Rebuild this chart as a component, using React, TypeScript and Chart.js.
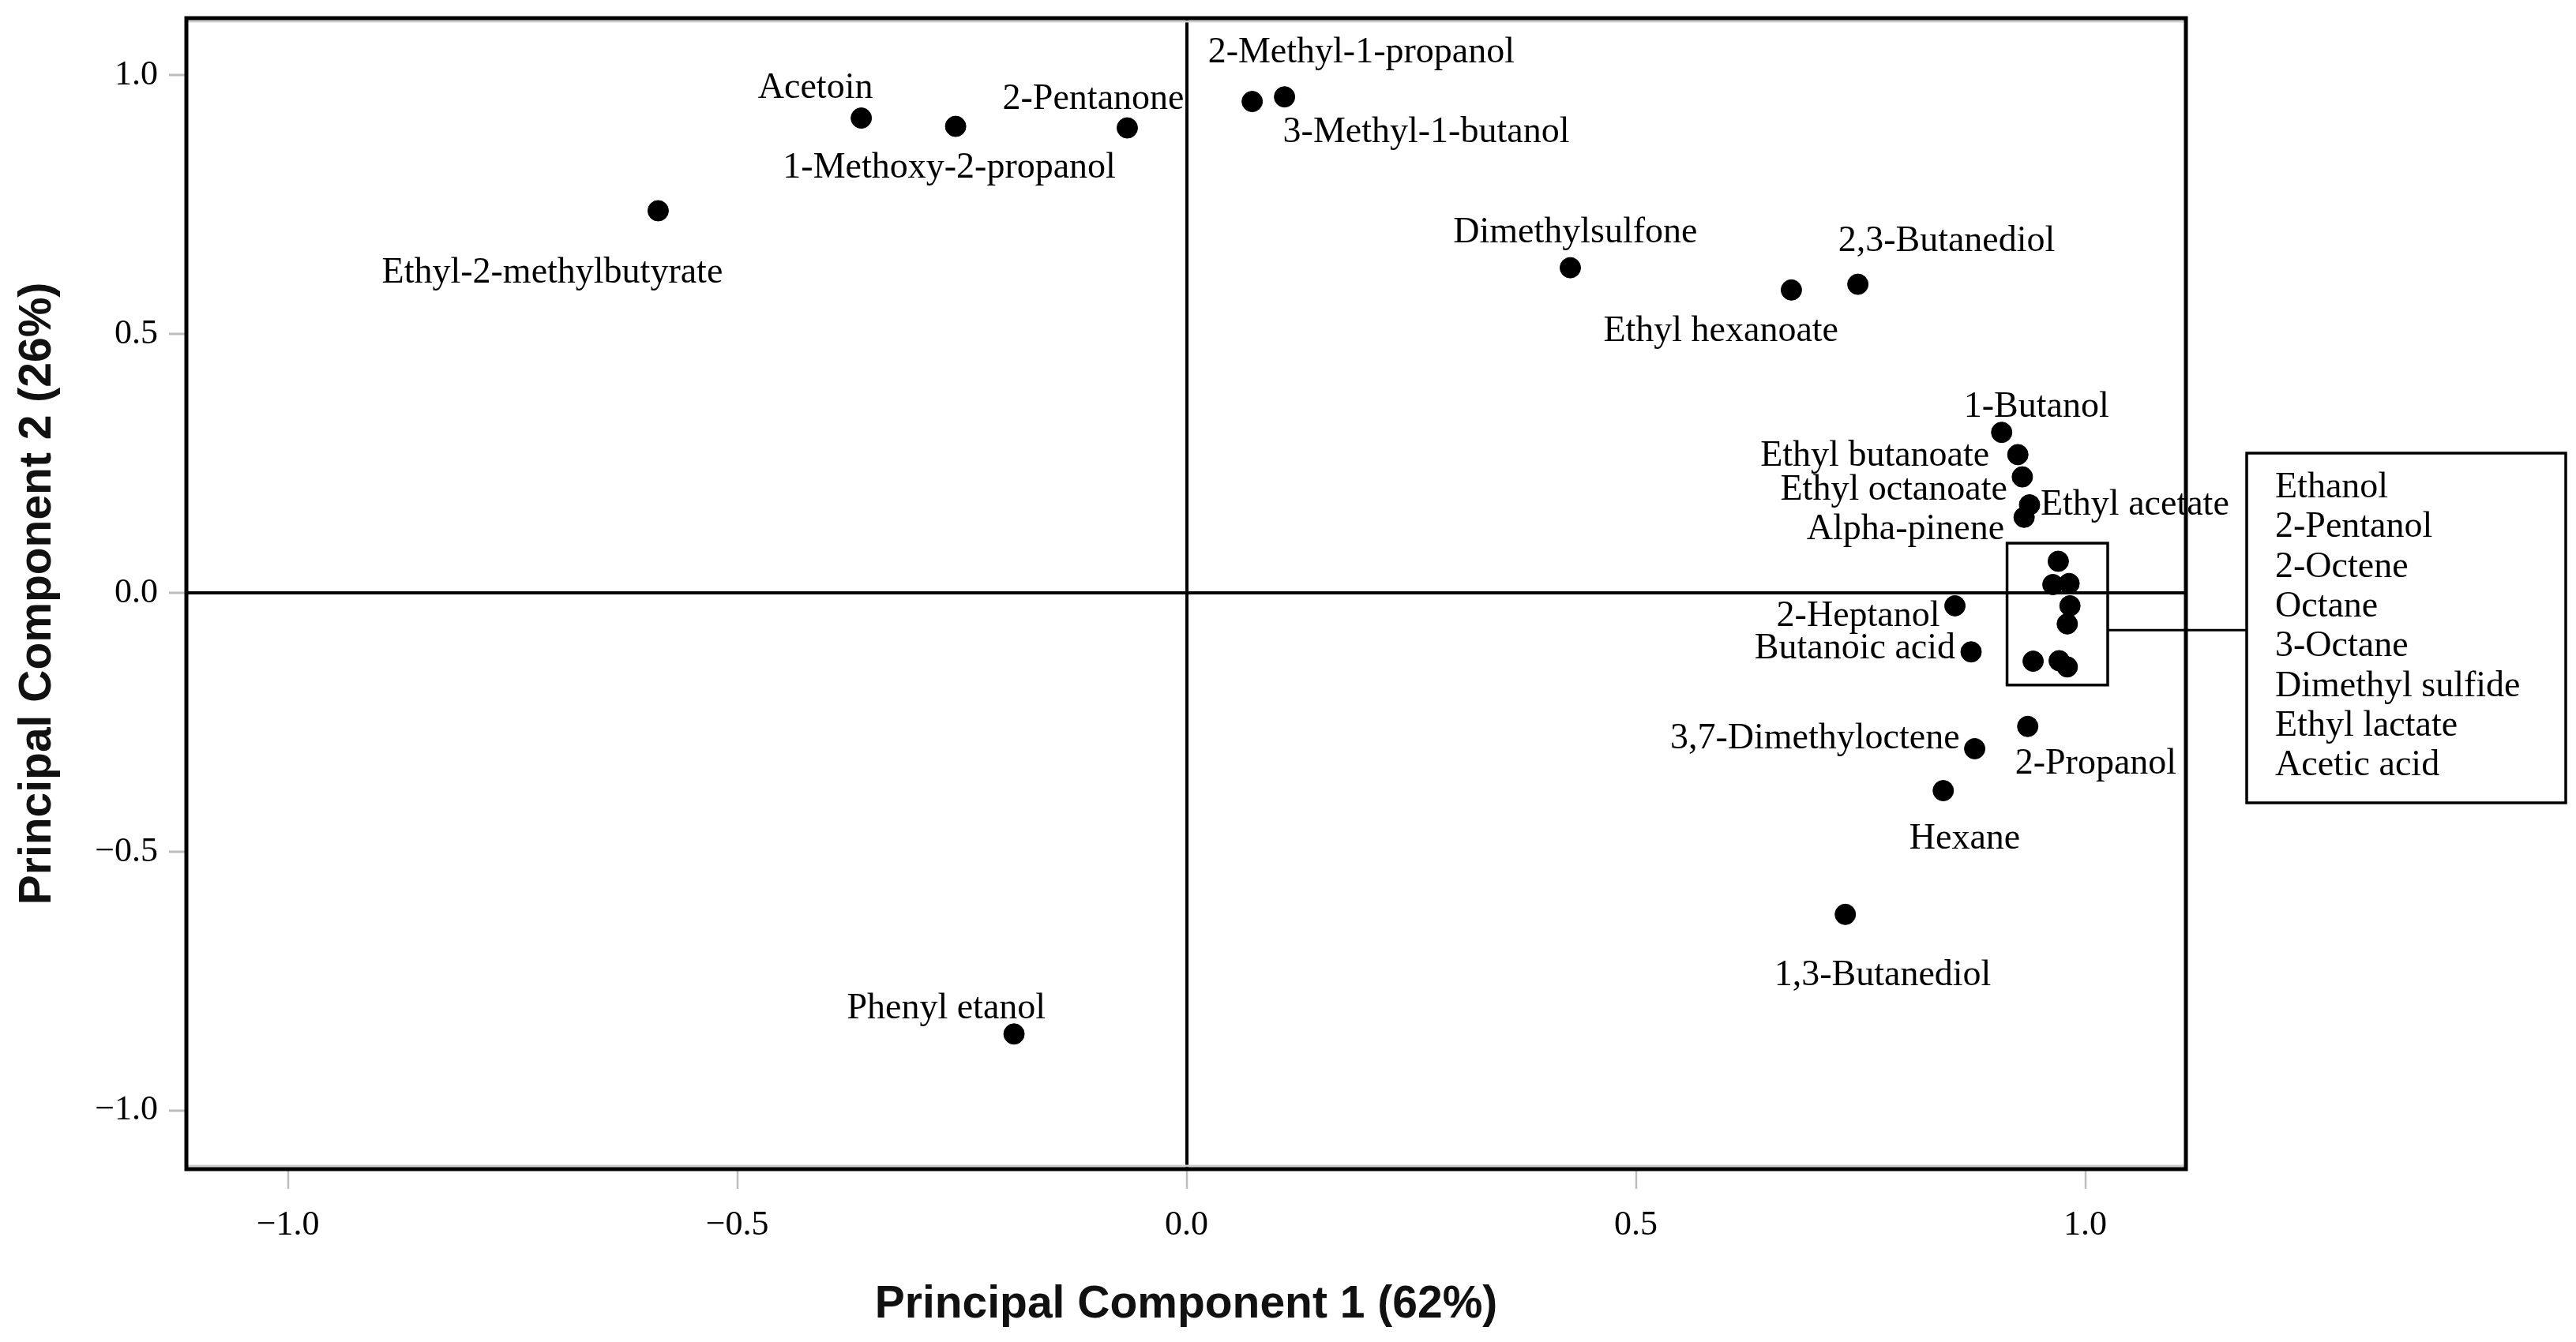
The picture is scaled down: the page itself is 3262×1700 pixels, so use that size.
import React, { useEffect, useRef } from "react";
import { Chart, registerables } from "chart.js";

Chart.register(...registerables);

// ---------- data ----------
const compounds: string[] = [
  "Acetoin",
  "1-Methoxy-2-propanol",
  "2-Pentanone",
  "Ethyl-2-methylbutyrate",
  "2-Methyl-1-propanol",
  "3-Methyl-1-butanol",
  "Dimethylsulfone",
  "Ethyl hexanoate",
  "2,3-Butanediol",
  "1-Butanol",
  "Ethyl butanoate",
  "Ethyl octanoate",
  "Ethyl acetate",
  "Alpha-pinene",
  "2-Heptanol",
  "Butanoic acid",
  "2-Propanol",
  "3,7-Dimethyloctene",
  "Hexane",
  "1,3-Butanediol",
  "Phenyl etanol",
  "Ethanol",
  "2-Pentanol",
  "2-Octene",
  "Octane",
  "3-Octane",
  "Dimethyl sulfide",
  "Ethyl lactate",
  "Acetic acid",
];

const pc1: number[] = [
  -0.362, -0.257, -0.066, -0.588, 0.073, 0.109, 0.427, 0.673, 0.747, 0.907,
  0.925, 0.93, 0.938, 0.932, 0.855, 0.873, 0.936, 0.877, 0.842, 0.733, -0.192,
  0.97, 0.964, 0.982, 0.983, 0.98, 0.942, 0.971, 0.98,
];

const pc2: number[] = [
  0.917, 0.901, 0.898, 0.738, 0.949, 0.958, 0.628, 0.585, 0.596, 0.31, 0.267,
  0.224, 0.17, 0.146, -0.025, -0.114, -0.258, -0.301, -0.382, -0.621, -0.852,
  0.061, 0.016, 0.018, -0.025, -0.06, -0.132, -0.131, -0.143,
];

// compounds listed in the side box (points inside the small rectangle)
const boxedCompounds: string[] = [
  "Ethanol",
  "2-Pentanol",
  "2-Octene",
  "Octane",
  "3-Octane",
  "Dimethyl sulfide",
  "Ethyl lactate",
  "Acetic acid",
];

const xTitle = "Principal Component 1 (62%)";
const yTitle = "Principal Component 2 (26%)";
const axisMin = { x: -1.113, y: -1.113 };
const axisMax = { x: 1.112, y: 1.11 };

// ---------- layout of labels (alignment, px offset from point, baseline offset) ----------
type Lab = [CanvasTextAlign, number, number] | null;
const labelLayout: Lab[] = [
  ["center", -58, -26],
  ["center", -8, 65],
  ["right", 72, -24],
  ["center", -134, 91],
  ["left", -56, -50],
  ["left", -2, 57],
  ["right", 161, -32],
  ["left", -238, 65],
  ["left", -25, -42],
  ["left", -48, -20],
  ["right", -36, 14],
  ["right", -19, 29],
  ["left", 14, 12],
  ["right", -25, 28],
  ["right", -19, 26],
  ["right", -20, 8],
  ["left", -16, 60],
  ["right", -19, 0],
  ["left", -43, 73],
  ["left", -90, 90],
  ["right", 40, -20],
  null, null, null, null, null, null, null, null,
];

// small rectangle around the clustered points (data units)
const clusterBox = { x0: 0.913, x1: 1.025, y0: -0.178, y1: 0.096, link: -0.072 };

const LABEL_FONT = '46px "Liberation Serif"';

const decorPlugin = {
  id: "pcaDecor",
  afterDatasetsDraw(chart: any) {
    const { ctx, chartArea: a, scales } = chart;
    const xs = scales.x;
    const ys = scales.y;
    ctx.save();

    // point labels
    ctx.font = LABEL_FONT;
    ctx.fillStyle = "#000";
    ctx.textBaseline = "alphabetic";
    compounds.forEach((name, i) => {
      const lab = labelLayout[i];
      if (!lab) return;
      const [align, dx, dy] = lab;
      ctx.textAlign = align;
      ctx.fillText(name, xs.getPixelForValue(pc1[i]) + dx, ys.getPixelForValue(pc2[i]) + dy);
    });

    // cluster rectangle
    const bx0 = xs.getPixelForValue(clusterBox.x0);
    const bx1 = xs.getPixelForValue(clusterBox.x1);
    const by0 = ys.getPixelForValue(clusterBox.y1);
    const by1 = ys.getPixelForValue(clusterBox.y0);
    ctx.strokeStyle = "#000";
    ctx.lineWidth = 3.5;
    ctx.strokeRect(bx0, by0, bx1 - bx0, by1 - by0);

    // side legend box
    const lx0 = a.right + 77;
    const lx1 = a.right + 481;
    const ly0 = a.top + 551;
    const ly1 = a.top + 994;
    ctx.strokeRect(lx0, ly0, lx1 - lx0, ly1 - ly0);

    // connector
    const linkY = ys.getPixelForValue(clusterBox.link);
    ctx.lineWidth = 3;
    ctx.beginPath();
    ctx.moveTo(bx1, linkY);
    ctx.lineTo(lx0, linkY);
    ctx.stroke();

    // legend text
    ctx.textAlign = "left";
    ctx.font = LABEL_FONT;
    boxedCompounds.forEach((name, i) => {
      ctx.fillText(name, lx0 + 36, ly0 + 56 + i * 50.3);
    });

    ctx.restore();
  },
  afterDraw(chart: any) {
    const { ctx, chartArea: a } = chart;
    ctx.save();
    // inner light shading
    ctx.strokeStyle = "#cfcfcf";
    ctx.lineWidth = 3;
    ctx.beginPath();
    ctx.moveTo(a.left, a.top + 4);
    ctx.lineTo(a.right, a.top + 4);
    ctx.moveTo(a.left, a.bottom - 4);
    ctx.lineTo(a.right, a.bottom - 4);
    ctx.stroke();
    // frame
    ctx.strokeStyle = "#000";
    ctx.lineWidth = 5;
    ctx.strokeRect(a.left, a.top, a.right - a.left, a.bottom - a.top);
    ctx.restore();
  },
};

const fmt = (v: any) => {
  const n = Number(v);
  const s = Math.abs(n).toFixed(1);
  return n < 0 ? "\u2212" + s : s;
};

export default function App() {
  const ref = useRef<HTMLCanvasElement | null>(null);

  useEffect(() => {
    const canvas = ref.current;
    if (!canvas) return;
    const points = pc1.map((x, i) => ({ x, y: pc2[i] }));
    const zeroColor = (c: any) => (c.tick && c.tick.value === 0 ? "#000" : "rgba(0,0,0,0)");
    const zeroWidth = (c: any) => (c.tick && c.tick.value === 0 ? 4 : 0);

    const chart = new Chart(canvas, {
      type: "scatter",
      data: {
        datasets: [
          {
            label: "Loadings",
            data: points,
            pointRadius: 13,
            pointHoverRadius: 13,
            pointBackgroundColor: "#000",
            pointBorderColor: "#000",
            pointBorderWidth: 1,
          },
        ],
      },
      options: {
        responsive: false,
        maintainAspectRatio: false,
        devicePixelRatio: 1,
        animation: false,
        layout: { padding: { top: 23, right: 494, left: 0, bottom: 0 } },
        plugins: {
          legend: { display: false },
          tooltip: { enabled: false },
        },
        scales: {
          x: {
            type: "linear",
            min: axisMin.x,
            max: axisMax.x,
            border: { display: false },
            afterFit: (s: any) => {
              s.height = 219;
              s.paddingLeft = 0;
              s.paddingRight = 0;
            },
            grid: {
              color: zeroColor,
              lineWidth: zeroWidth,
              drawTicks: true,
              tickLength: 25,
              tickColor: "#bdbdbd",
              tickWidth: 2.5,
            },
            ticks: {
              stepSize: 0.5,
              includeBounds: false,
              padding: 20,
              color: "#000",
              font: { family: "Liberation Serif", size: 44 },
              callback: fmt,
              maxRotation: 0,
            },
            title: {
              display: true,
              text: xTitle,
              color: "#111",
              font: { family: "Liberation Sans", size: 57, weight: "bold" },
              padding: { top: 0, bottom: 13 },
            },
          },
          y: {
            type: "linear",
            min: axisMin.y,
            max: axisMax.y,
            border: { display: false },
            afterFit: (s: any) => {
              s.width = 236;
              s.paddingTop = 0;
              s.paddingBottom = 0;
            },
            grid: {
              color: zeroColor,
              lineWidth: zeroWidth,
              drawTicks: true,
              tickLength: 22,
              tickColor: "#bdbdbd",
              tickWidth: 3,
            },
            ticks: {
              stepSize: 0.5,
              includeBounds: false,
              padding: 14,
              color: "#000",
              font: { family: "Liberation Serif", size: 44 },
              callback: fmt,
            },
            title: {
              display: true,
              text: yTitle,
              color: "#111",
              font: { family: "Liberation Sans", size: 57, weight: "bold" },
              padding: { top: 14, bottom: 0 },
            },
          },
        },
      },
      plugins: [decorPlugin],
    } as any);

    return () => chart.destroy();
  }, []);

  return (
    <div style={{ position: "fixed", left: 0, top: 0, width: 3262, height: 1700, background: "#fff" }}>
      <canvas ref={ref} width={3262} height={1700} style={{ display: "block", width: 3262, height: 1700 }} />
    </div>
  );
}
